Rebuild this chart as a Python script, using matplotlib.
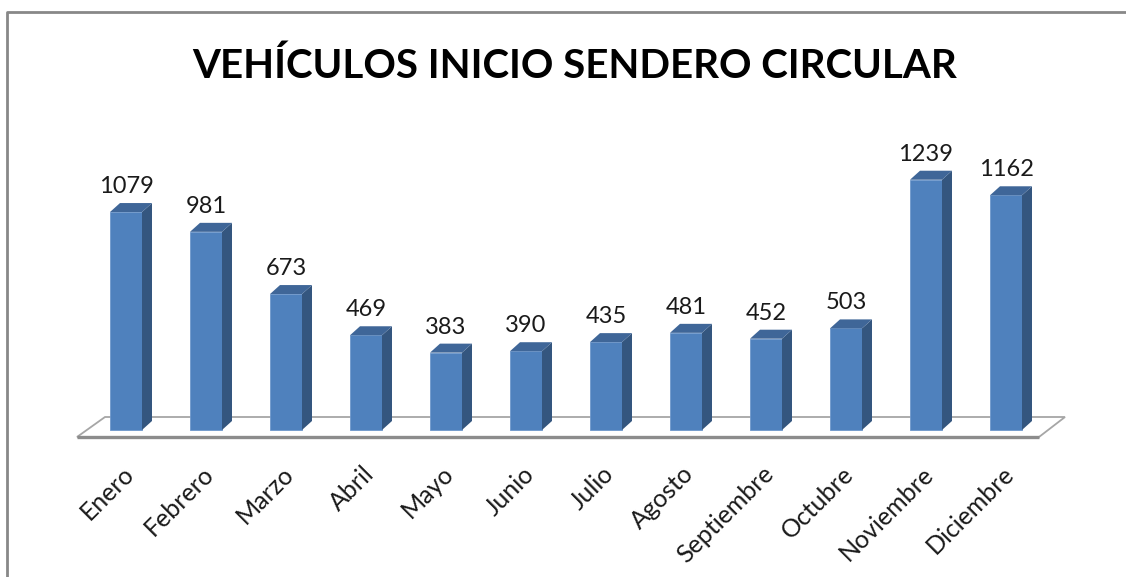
import numpy as np
import matplotlib
matplotlib.use('Agg')
import matplotlib.pyplot as plt
from matplotlib.patches import Polygon
from matplotlib.lines import Line2D

plt.rcParams['font.family'] = ['Lato', 'DejaVu Sans']

# datos
titulo = 'VEHÍCULOS INICIO SENDERO CIRCULAR'
meses = ['Enero', 'Febrero', 'Marzo', 'Abril', 'Mayo', 'Junio', 'Julio',
         'Agosto', 'Septiembre', 'Octubre', 'Noviembre', 'Diciembre']
vehiculos = [1079, 981, 673, 469, 383, 390, 435, 481, 452, 503, 1239, 1162]

W, H = 1126, 577
fig = plt.figure(figsize=(W / 100, H / 100), dpi=100)
ax = fig.add_axes([0, 0, 1, 1])

# escala: barra i -> px 126 + 80*i ; valor v -> px 430 - 0.202*v (desde arriba)
sx, x0 = 80.0, 126.0
sy, y0 = 0.202, 430.0
ax.set_xlim(-x0 / sx, (W - x0) / sx)
ax.set_ylim((y0 - H) / sy, y0 / sy)
ax.axis('off')

def px(x, y):
    # pixel -> coordenadas de datos (solo para el piso decorativo)
    return ((x - x0) / sx, (y0 - y) / sy)

ancho = 32 / sx
dx = 10 / sx   # profundidad 3D
dy = 9 / sy

# piso
piso = [px(77, 437), px(1039, 437), px(1065, 417), px(105, 417)]
ax.add_patch(Polygon(piso, closed=True, fc='white', ec='#A6A6A6', lw=1.3, zorder=1))
ax.plot([piso[0][0], piso[1][0]], [piso[0][1], piso[1][1]], color='#8C8C8C', lw=2.4,
        solid_capstyle='butt', zorder=1.5)

x = np.arange(len(meses))
ax.bar(x, vehiculos, width=ancho, color='#4F81BD', edgecolor='#6E98CC', lw=0.6, zorder=3)

for i, v in zip(x, vehiculos):
    r = i + ancho / 2
    l = i - ancho / 2
    lado = [(r, 0), (r + dx, dy), (r + dx, v + dy), (r, v)]
    tapa = [(l, v), (r, v), (r + dx, v + dy), (l + dx, v + dy)]
    ax.add_patch(Polygon(lado, closed=True, fc='#34567F', ec='none', zorder=3))
    ax.add_patch(Polygon(tapa, closed=True, fc='#3F6698', ec='none', zorder=3))
    ax.text(i, v + dy + 10 / sy, str(v), ha='center', va='baseline',
            fontsize=17, color='#1A1A1A', zorder=4)

for i, mes in zip(x, meses):
    ax.text(i - 4 / sx, (y0 - 462) / sy, mes, rotation=45, rotation_mode='anchor',
            ha='right', va='top', fontsize=18, color='#1A1A1A')

fig.text(575 / W, 1 - 66 / H, titulo, ha='center', va='center', fontsize=29,
         fontweight='bold', color='black')

# borde del grafico (solo izquierda y arriba quedan dentro de la imagen)
bx, by = 7 / W, 1 - 12 / H
fig.add_artist(Line2D([bx, bx, 1.0], [0.0, by, by], transform=fig.transFigure,
                      color='#888888', lw=2))

fig.savefig('out.png', dpi=100)
